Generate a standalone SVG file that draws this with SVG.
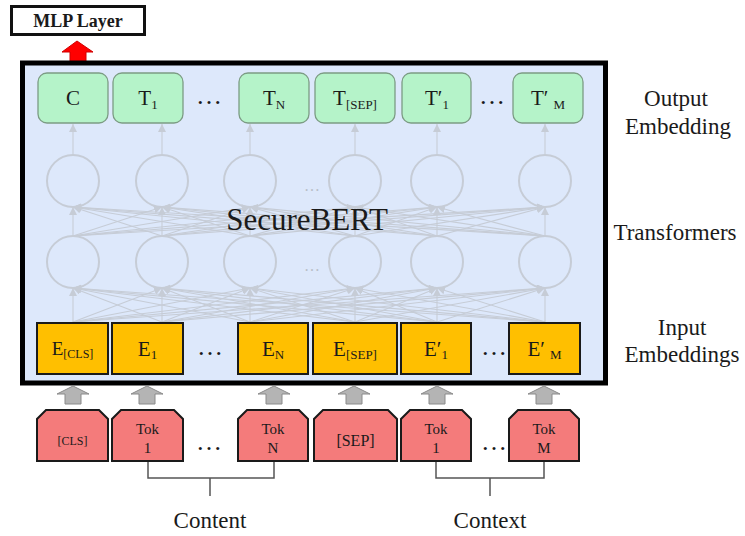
<svg xmlns="http://www.w3.org/2000/svg" width="745" height="536" viewBox="0 0 745 536">
<defs>
<style>
text{font-family:"Liberation Serif","Times New Roman",serif;fill:#1a1a1a}
.out{fill:#b5f3c9;stroke:#7c9c84;stroke-width:1.3}
.emb{fill:#ffbf00;stroke:#1a1a1a;stroke-width:2}
.tok{fill:#f47b7b;stroke:#1a1a1a;stroke-width:2}
.cir{fill:none;stroke:#c6ccd6;stroke-width:2}
.ln{stroke:#c6ccd6;stroke-width:1.1;fill:none;marker-end:url(#ah)}
.gar{fill:#b4b4b4;stroke:#8a8a8a;stroke-width:1}
.br{stroke:#555;stroke-width:1.5;fill:none}
.lbl{font-size:23px;text-anchor:middle}
.c{text-anchor:middle}
.sub{font-size:13px}
.fd{fill:#b8bec8;font-size:16px;text-anchor:middle}
</style>
<marker id="ah" markerUnits="userSpaceOnUse" markerWidth="9" markerHeight="9" refX="8" refY="4" orient="auto"><path d="M0,0 L8,4 L0,8 Z" fill="#c6ccd6"/></marker>
</defs>

<g id="mlp">
<rect x="11.5" y="6.5" width="133" height="28" fill="#fff" stroke="#111" stroke-width="3"/>
<text x="78" y="27" class="c" style="font-size:18px;font-weight:bold">MLP Layer</text>
<polygon points="77,41 93,52 86,52 86,62 70,62 70,52 62,52" fill="#ff0000" stroke="#d00000" stroke-width="1"/>
</g>

<g id="securebert">
<rect x="22.5" y="63" width="583" height="320" fill="#dde8fb" stroke="#000" stroke-width="5"/>
</g>

<g id="connectors">
<!-- output arrows -->
<line class="ln" x1="73" y1="155" x2="73" y2="124"/>
<line class="ln" x1="162" y1="155" x2="162" y2="124"/>
<line class="ln" x1="250" y1="155" x2="250" y2="124"/>
<line class="ln" x1="355" y1="155" x2="355" y2="124"/>
<line class="ln" x1="437" y1="155" x2="437" y2="124"/>
<line class="ln" x1="545" y1="155" x2="545" y2="124"/>
<!-- lower circles to upper circles -->
<line class="ln" x1="73" y1="236" x2="73" y2="207"/>
<line class="ln" x1="73" y1="236" x2="162" y2="207"/>
<line class="ln" x1="73" y1="236" x2="250" y2="207"/>
<line class="ln" x1="73" y1="236" x2="355" y2="207"/>
<line class="ln" x1="73" y1="236" x2="437" y2="207"/>
<line class="ln" x1="73" y1="236" x2="545" y2="207"/>
<line class="ln" x1="162" y1="236" x2="73" y2="207"/>
<line class="ln" x1="162" y1="236" x2="162" y2="207"/>
<line class="ln" x1="162" y1="236" x2="250" y2="207"/>
<line class="ln" x1="162" y1="236" x2="355" y2="207"/>
<line class="ln" x1="162" y1="236" x2="437" y2="207"/>
<line class="ln" x1="162" y1="236" x2="545" y2="207"/>
<line class="ln" x1="250" y1="236" x2="73" y2="207"/>
<line class="ln" x1="250" y1="236" x2="162" y2="207"/>
<line class="ln" x1="250" y1="236" x2="250" y2="207"/>
<line class="ln" x1="250" y1="236" x2="355" y2="207"/>
<line class="ln" x1="250" y1="236" x2="437" y2="207"/>
<line class="ln" x1="250" y1="236" x2="545" y2="207"/>
<line class="ln" x1="355" y1="236" x2="73" y2="207"/>
<line class="ln" x1="355" y1="236" x2="162" y2="207"/>
<line class="ln" x1="355" y1="236" x2="250" y2="207"/>
<line class="ln" x1="355" y1="236" x2="355" y2="207"/>
<line class="ln" x1="355" y1="236" x2="437" y2="207"/>
<line class="ln" x1="355" y1="236" x2="545" y2="207"/>
<line class="ln" x1="437" y1="236" x2="73" y2="207"/>
<line class="ln" x1="437" y1="236" x2="162" y2="207"/>
<line class="ln" x1="437" y1="236" x2="250" y2="207"/>
<line class="ln" x1="437" y1="236" x2="355" y2="207"/>
<line class="ln" x1="437" y1="236" x2="437" y2="207"/>
<line class="ln" x1="437" y1="236" x2="545" y2="207"/>
<line class="ln" x1="545" y1="236" x2="73" y2="207"/>
<line class="ln" x1="545" y1="236" x2="162" y2="207"/>
<line class="ln" x1="545" y1="236" x2="250" y2="207"/>
<line class="ln" x1="545" y1="236" x2="355" y2="207"/>
<line class="ln" x1="545" y1="236" x2="437" y2="207"/>
<line class="ln" x1="545" y1="236" x2="545" y2="207"/>
<!-- input embeddings to lower circles -->
<line class="ln" x1="73" y1="322" x2="73" y2="288"/>
<line class="ln" x1="73" y1="322" x2="162" y2="288"/>
<line class="ln" x1="73" y1="322" x2="250" y2="288"/>
<line class="ln" x1="73" y1="322" x2="355" y2="288"/>
<line class="ln" x1="73" y1="322" x2="437" y2="288"/>
<line class="ln" x1="73" y1="322" x2="545" y2="288"/>
<line class="ln" x1="162" y1="322" x2="73" y2="288"/>
<line class="ln" x1="162" y1="322" x2="162" y2="288"/>
<line class="ln" x1="162" y1="322" x2="250" y2="288"/>
<line class="ln" x1="162" y1="322" x2="355" y2="288"/>
<line class="ln" x1="162" y1="322" x2="437" y2="288"/>
<line class="ln" x1="162" y1="322" x2="545" y2="288"/>
<line class="ln" x1="250" y1="322" x2="73" y2="288"/>
<line class="ln" x1="250" y1="322" x2="162" y2="288"/>
<line class="ln" x1="250" y1="322" x2="250" y2="288"/>
<line class="ln" x1="250" y1="322" x2="355" y2="288"/>
<line class="ln" x1="250" y1="322" x2="437" y2="288"/>
<line class="ln" x1="250" y1="322" x2="545" y2="288"/>
<line class="ln" x1="355" y1="322" x2="73" y2="288"/>
<line class="ln" x1="355" y1="322" x2="162" y2="288"/>
<line class="ln" x1="355" y1="322" x2="250" y2="288"/>
<line class="ln" x1="355" y1="322" x2="355" y2="288"/>
<line class="ln" x1="355" y1="322" x2="437" y2="288"/>
<line class="ln" x1="355" y1="322" x2="545" y2="288"/>
<line class="ln" x1="437" y1="322" x2="73" y2="288"/>
<line class="ln" x1="437" y1="322" x2="162" y2="288"/>
<line class="ln" x1="437" y1="322" x2="250" y2="288"/>
<line class="ln" x1="437" y1="322" x2="355" y2="288"/>
<line class="ln" x1="437" y1="322" x2="437" y2="288"/>
<line class="ln" x1="437" y1="322" x2="545" y2="288"/>
<line class="ln" x1="545" y1="322" x2="73" y2="288"/>
<line class="ln" x1="545" y1="322" x2="162" y2="288"/>
<line class="ln" x1="545" y1="322" x2="250" y2="288"/>
<line class="ln" x1="545" y1="322" x2="355" y2="288"/>
<line class="ln" x1="545" y1="322" x2="437" y2="288"/>
<line class="ln" x1="545" y1="322" x2="545" y2="288"/>
<!-- gray block arrows -->
<polygon class="gar" points="73,386 89,394 81,394 81,404 65,404 65,394 57,394"/>
<polygon class="gar" points="147,386 163,394 155,394 155,404 139,404 139,394 131,394"/>
<polygon class="gar" points="274,386 290,394 282,394 282,404 266,404 266,394 258,394"/>
<polygon class="gar" points="354,386 370,394 362,394 362,404 346,404 346,394 338,394"/>
<polygon class="gar" points="437,386 453,394 445,394 445,404 429,404 429,394 421,394"/>
<polygon class="gar" points="544,386 560,394 552,394 552,404 536,404 536,394 528,394"/>
<!-- brackets -->
<path class="br" d="M148,461 V478 H274 V461 M210,478 V496"/>
<path class="br" d="M436,461 V478 H544 V461 M490,478 V496"/>
</g>

<g id="circles">
<circle class="cir" cx="73" cy="181" r="26"/>
<circle class="cir" cx="162" cy="181" r="26"/>
<circle class="cir" cx="250" cy="181" r="26"/>
<circle class="cir" cx="355" cy="181" r="26"/>
<circle class="cir" cx="437" cy="181" r="26"/>
<circle class="cir" cx="545" cy="181" r="26"/>
<circle class="cir" cx="73" cy="262" r="26"/>
<circle class="cir" cx="162" cy="262" r="26"/>
<circle class="cir" cx="250" cy="262" r="26"/>
<circle class="cir" cx="355" cy="262" r="26"/>
<circle class="cir" cx="437" cy="262" r="26"/>
<circle class="cir" cx="545" cy="262" r="26"/>
<text class="fd" x="312" y="191">…</text>
<text class="fd" x="312" y="271">…</text>
</g>

<g id="label-securebert"><text x="307" y="230" class="c" style="font-size:31px">SecureBERT</text></g>

<g id="out-c"><rect class="out" x="38" y="73" width="70" height="50" rx="9"/><text x="73" y="105" class="c" style="font-size:21px">C</text></g>
<g id="out-t1"><rect class="out" x="113" y="73" width="70" height="50" rx="9"/><text x="148" y="105" class="c" style="font-size:21px">T<tspan class="sub" dy="4">1</tspan></text></g>
<g id="out-dots"><text x="209" y="104" class="c" style="font-size:26px">…</text></g>
<g id="out-tn"><rect class="out" x="239" y="73" width="70" height="50" rx="9"/><text x="274" y="105" class="c" style="font-size:21px">T<tspan class="sub" dy="4">N</tspan></text></g>
<g id="out-tsep"><rect class="out" x="315" y="73" width="80" height="50" rx="9"/><text x="355" y="105" class="c" style="font-size:21px">T<tspan class="sub" dy="4">[SEP]</tspan></text></g>
<g id="out-t1p"><rect class="out" x="402" y="73" width="69" height="50" rx="9"/><text x="437" y="105" class="c" style="font-size:21px">T′<tspan class="sub" dy="4">1</tspan></text></g>
<g id="out-dots2"><text x="492" y="104" class="c" style="font-size:26px">…</text></g>
<g id="out-tmp"><rect class="out" x="513" y="73" width="70" height="50" rx="9"/><text x="548" y="105" class="c" style="font-size:21px">T′<tspan class="sub" dx="5" dy="4">M</tspan></text></g>

<g id="emb-cls"><rect class="emb" x="37" y="323" width="71" height="51"/><text x="72.5" y="355" class="c" style="font-size:19px">E<tspan style="font-size:12px" dy="3">[CLS]</tspan></text></g>
<g id="emb-1"><rect class="emb" x="112" y="323" width="71" height="51"/><text x="147.5" y="356" class="c" style="font-size:21px">E<tspan class="sub" dy="3">1</tspan></text></g>
<g id="emb-dots"><text x="210" y="355" class="c" style="font-size:26px">…</text></g>
<g id="emb-n"><rect class="emb" x="238" y="323" width="70" height="51"/><text x="273" y="356" class="c" style="font-size:21px">E<tspan class="sub" dy="3">N</tspan></text></g>
<g id="emb-sep"><rect class="emb" x="313" y="323" width="84" height="51"/><text x="355" y="356" class="c" style="font-size:21px">E<tspan class="sub" dy="3">[SEP]</tspan></text></g>
<g id="emb-1p"><rect class="emb" x="401" y="323" width="70" height="51"/><text x="436" y="356" class="c" style="font-size:21px">E′<tspan class="sub" dy="3">1</tspan></text></g>
<g id="emb-dots2"><text x="494" y="355" class="c" style="font-size:26px">…</text></g>
<g id="emb-mp"><rect class="emb" x="509" y="323" width="71" height="51"/><text x="544.5" y="356" class="c" style="font-size:21px">E′<tspan class="sub" dx="5" dy="3">M</tspan></text></g>

<g id="tok-cls"><path class="tok" d="M46,410 H99 L108,419 V461 H37 V419 Z"/><text x="72.5" y="445" class="c" style="font-size:12px">[CLS]</text></g>
<g id="tok-1"><path class="tok" d="M121,410 H174 L183,419 V461 H112 V419 Z"/><text x="147.5" y="434" class="c" style="font-size:15px">Tok</text><text x="147.5" y="453" class="c" style="font-size:15px">1</text></g>
<g id="tok-dots"><text x="209" y="450" class="c" style="font-size:26px">…</text></g>
<g id="tok-n"><path class="tok" d="M247,410 H299 L308,419 V461 H238 V419 Z"/><text x="273" y="434" class="c" style="font-size:15px">Tok</text><text x="273" y="453" class="c" style="font-size:15px">N</text></g>
<g id="tok-sep"><path class="tok" d="M323,410 H388 L397,419 V461 H314 V419 Z"/><text x="355.5" y="446" class="c" style="font-size:16px">[SEP]</text></g>
<g id="tok-1p"><path class="tok" d="M410,410 H462 L471,419 V461 H401 V419 Z"/><text x="436" y="434" class="c" style="font-size:15px">Tok</text><text x="436" y="453" class="c" style="font-size:15px">1</text></g>
<g id="tok-dots2"><text x="494" y="450" class="c" style="font-size:26px">…</text></g>
<g id="tok-m"><path class="tok" d="M518,410 H570 L579,419 V461 H509 V419 Z"/><text x="544" y="434" class="c" style="font-size:15px">Tok</text><text x="544" y="453" class="c" style="font-size:15px">M</text></g>

<g id="label-content"><text x="210" y="528" class="c" style="font-size:23px">Content</text></g>
<g id="label-context"><text x="490" y="528" class="c" style="font-size:23px">Context</text></g>

<g id="label-output"><text x="676" y="106" class="lbl">Output</text><text x="678" y="134" class="lbl">Embedding</text></g>
<g id="label-transformers"><text x="675" y="240" class="lbl">Transformers</text></g>
<g id="label-input"><text x="682" y="335" class="lbl">Input</text><text x="682" y="362" class="lbl">Embeddings</text></g>
</svg>
